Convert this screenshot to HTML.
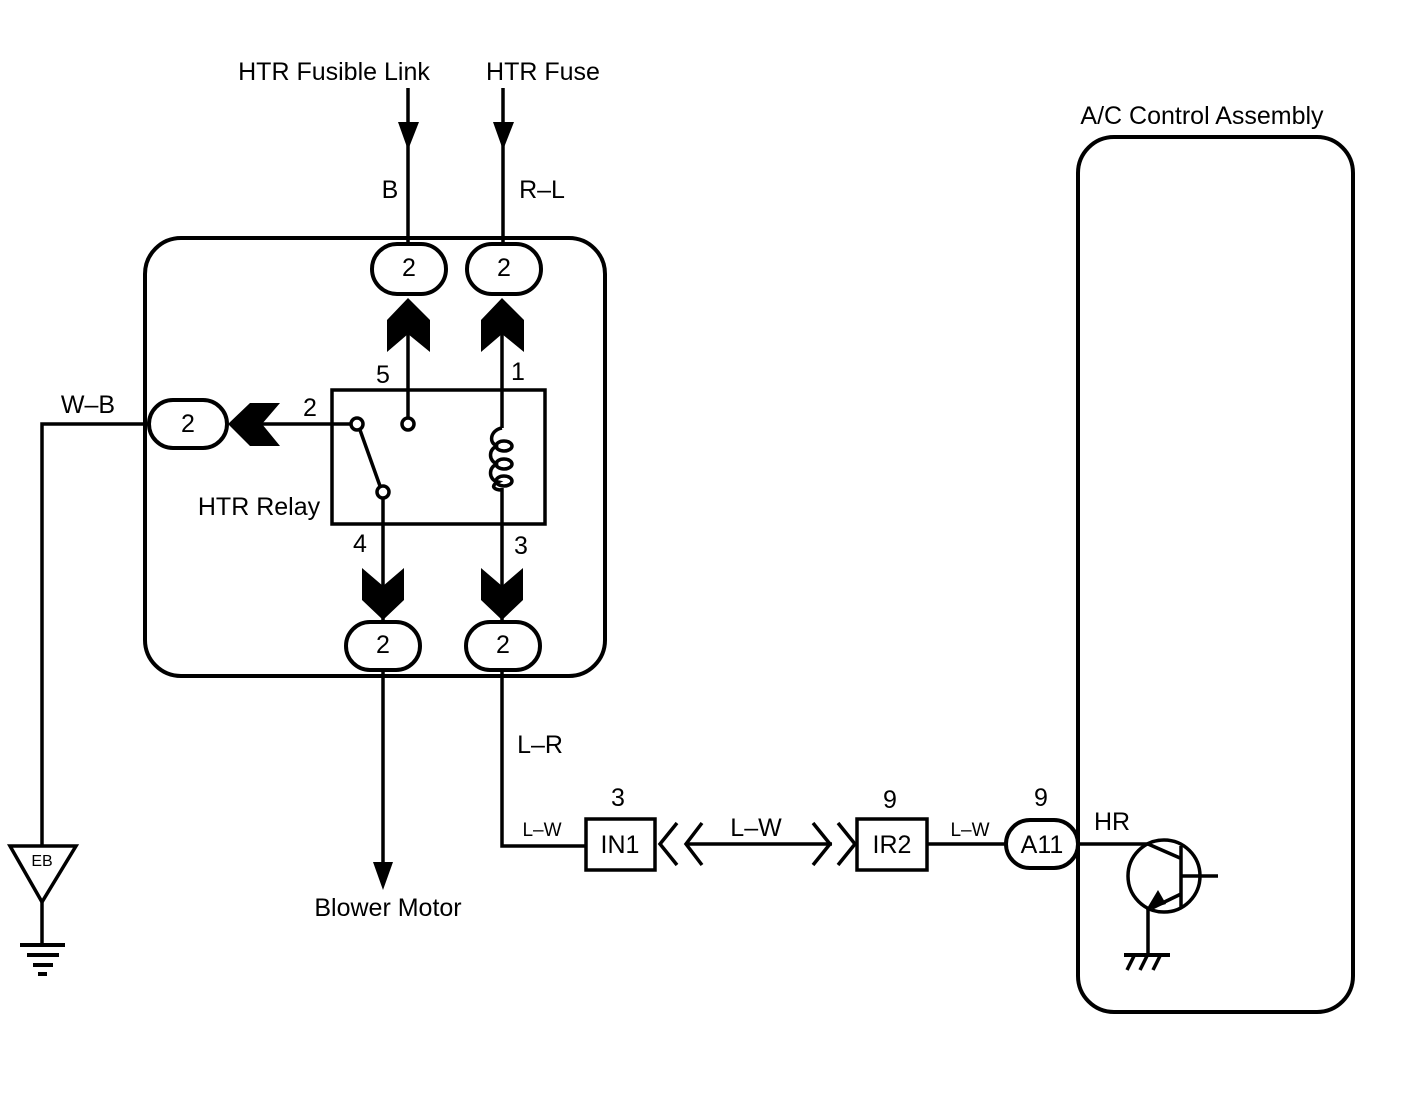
<!DOCTYPE html>
<html><head><style>body{margin:0;background:#fff}svg{display:block}text{font-family:"Liberation Sans",sans-serif;fill:#000}</style></head>
<body>
<svg width="1408" height="1102" viewBox="0 0 1408 1102" xmlns="http://www.w3.org/2000/svg">
<g stroke="#000" fill="none" stroke-width="3.5">
<rect x="145" y="238" width="460" height="438" rx="36" stroke-width="4"/>
<rect x="1078" y="137" width="275" height="875" rx="36" stroke-width="4"/>
<line x1="408" y1="88" x2="408" y2="244"/>
<line x1="503" y1="88" x2="503" y2="244"/>
<rect x="372" y="244" width="74" height="50" rx="25" stroke-width="4"/>
<rect x="467" y="244" width="74" height="50" rx="25" stroke-width="4"/>
<line x1="408" y1="300" x2="408" y2="418"/>
<line x1="502" y1="300" x2="502" y2="428"/>
<line x1="502" y1="488" x2="502" y2="620"/>
<line x1="383" y1="498" x2="383" y2="620"/>
<line x1="230" y1="424" x2="351" y2="424"/>
<rect x="332" y="390" width="213" height="134"/>
<circle cx="357" cy="424" r="6"/>
<circle cx="408" cy="424" r="6"/>
<circle cx="383" cy="492" r="6"/>
<line x1="360" y1="430" x2="380" y2="486"/>
<path d="M502 428 C490 430 488 444 498 446 C488 448 488 462 498 464 C488 466 488 480 498 482 C490 486 494 490 502 490"/>
<ellipse cx="504" cy="446" rx="8" ry="5"/>
<ellipse cx="504" cy="464" rx="8" ry="5"/>
<ellipse cx="504" cy="481" rx="8" ry="5"/>
<rect x="149" y="400" width="78" height="48" rx="24" stroke-width="4"/>
<rect x="346" y="622" width="74" height="48" rx="24" stroke-width="4"/>
<rect x="466" y="622" width="74" height="48" rx="24" stroke-width="4"/>
<polyline points="149,424 42,424 42,846"/>
<polygon points="10,846 76,846 42,902"/>
<line x1="42" y1="902" x2="42" y2="944"/>
<line x1="20" y1="945" x2="65" y2="945" stroke-width="4"/>
<line x1="27" y1="955" x2="59" y2="955" stroke-width="4"/>
<line x1="33" y1="965" x2="53" y2="965" stroke-width="4"/>
<line x1="38" y1="974" x2="47" y2="974" stroke-width="4"/>
<line x1="383" y1="670" x2="383" y2="865"/>
<polyline points="502,670 502,846 586,846"/>
<rect x="586" y="819" width="69" height="51"/>
<rect x="857" y="819" width="70" height="51"/>
<polyline points="677,823 660,844 677,865"/>
<polyline points="702,823 686,844 702,865"/>
<line x1="688" y1="844" x2="832" y2="844"/>
<polyline points="813,823 830,844 813,865"/>
<polyline points="838,823 855,844 838,865"/>
<line x1="927" y1="844" x2="1006" y2="844"/>
<rect x="1006" y="820" width="72" height="48" rx="24" stroke-width="4"/>
<line x1="1078" y1="844" x2="1148" y2="844"/>
<ellipse cx="1164" cy="876" rx="36" ry="36"/>
<line x1="1148" y1="844" x2="1180" y2="858"/>
<line x1="1181" y1="846" x2="1181" y2="908"/>
<line x1="1181" y1="876" x2="1218" y2="876"/>
<line x1="1181" y1="894" x2="1152" y2="908"/>
<line x1="1148" y1="908" x2="1148" y2="954"/>
<line x1="1124" y1="955" x2="1170" y2="955" stroke-width="4"/>
<line x1="1134" y1="956" x2="1127" y2="970"/>
<line x1="1147" y1="956" x2="1140" y2="970"/>
<line x1="1160" y1="956" x2="1153" y2="970"/>
</g>
<g fill="#000">
<polygon points="398,122 419,122 408,150"/>
<polygon points="493,122 514,122 503,150"/>
<polygon points="1146,910 1158,890 1166,904"/>
<polygon points="373,862 393,862 383,890"/>
<polygon points="408,298 430,320 430,352 408,334 387,352 387,320"/>
<polygon points="502,298 524,320 524,352 502,334 481,352 481,320"/>
<polygon points="362,568 383,586 404,568 404,600 383,620 362,600"/>
<polygon points="481,568 502,586 523,568 523,600 502,620 481,600"/>
<polygon points="228,424 250,403 280,403 262,424 280,446 250,446"/>
</g>
<g font-size="25" text-anchor="middle">
<text x="334" y="80">HTR Fusible Link</text>
<text x="543" y="80">HTR Fuse</text>
<text x="390" y="198">B</text>
<text x="542" y="198">R–L</text>
<text x="409" y="276">2</text>
<text x="504" y="276">2</text>
<text x="188" y="432">2</text>
<text x="383" y="653">2</text>
<text x="503" y="653">2</text>
<text x="383" y="383">5</text>
<text x="518" y="380">1</text>
<text x="310" y="416">2</text>
<text x="360" y="552">4</text>
<text x="521" y="554">3</text>
<text x="259" y="515">HTR Relay</text>
<text x="88" y="413">W–B</text>
<text x="388" y="916">Blower Motor</text>
<text x="540" y="753">L–R</text>
<text x="618" y="806">3</text>
<text x="620" y="853">IN1</text>
<text x="890" y="808">9</text>
<text x="892" y="853">IR2</text>
<text x="1041" y="806">9</text>
<text x="1042" y="853">A11</text>
<text x="756" y="836">L–W</text>
<text x="1112" y="830">HR</text>
<text x="1202" y="124">A/C Control Assembly</text>
</g>
<g font-size="19" text-anchor="middle">
<text x="542" y="836">L–W</text>
<text x="970" y="836">L–W</text>
<text x="42" y="866" font-size="16">EB</text>
</g>
</svg>
</body></html>
